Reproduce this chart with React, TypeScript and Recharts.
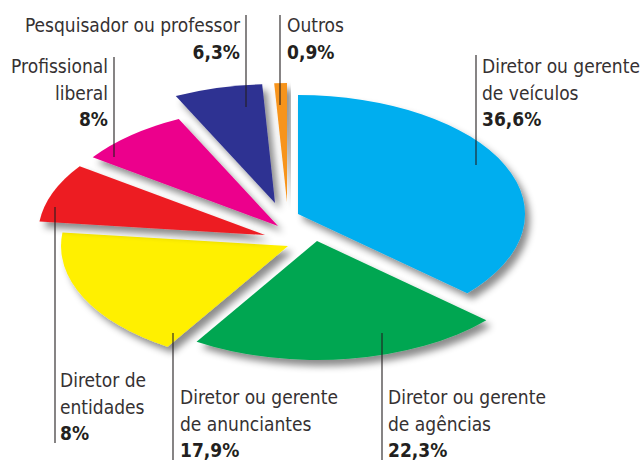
import React from "react";
import { PieChart, Pie, Tooltip } from "recharts";

const categories = [
  "Diretor ou gerente de veículos",
  "Diretor ou gerente de agências",
  "Diretor ou gerente de anunciantes",
  "Diretor de entidades",
  "Profissional liberal",
  "Pesquisador ou professor",
  "Outros",
];
const shares = [36.6, 22.3, 17.9, 8, 8, 6.3, 0.9];
const labelLines = [
  ["Diretor ou gerente", "de veículos"],
  ["Diretor ou gerente", "de agências"],
  ["Diretor ou gerente", "de anunciantes"],
  ["Diretor de", "entidades"],
  ["Profissional", "liberal"],
  ["Pesquisador ou professor"],
  ["Outros"],
];
const shareLabels = ["36,6%", "22,3%", "17,9%", "8%", "8%", "6,3%", "0,9%"];
const colors = ["#00AEEF", "#00A651", "#FFF000", "#ED1C24", "#EC008C", "#2E3192", "#F7941D"];

// styling: how far each slice is pulled out of the pie (dx, dy in px)
const explodeOffsets = [
  [11, -10],
  [30, 17],
  [1, 22],
  [-22, 11],
  [-9, 2],
  [-12, -21],
  [0, -22],
];

// label placement (annotation layout, not data)
const labelLayout = [
  { lineX: 476, y1: 55, y2: 165, textX: 482, anchor: "start", top: 73 },
  { lineX: 382, y1: 333, y2: 462, textX: 388, anchor: "start", top: 404 },
  { lineX: 173, y1: 333, y2: 462, textX: 180, anchor: "start", top: 404 },
  { lineX: 55, y1: 207, y2: 443, textX: 60, anchor: "start", top: 387 },
  { lineX: 114, y1: 57, y2: 157, textX: 108, anchor: "end", top: 73 },
  { lineX: 246, y1: 15, y2: 107, textX: 240, anchor: "end", top: 32 },
  { lineX: 280, y1: 15, y2: 105, textX: 287, anchor: "start", top: 32 },
];

const data = categories.map((name, i) => ({ name, value: shares[i], fill: colors[i], slot: i }));

const TILT = 0.524;
const FONT = "'DejaVu Sans Condensed', 'Liberation Sans Narrow', 'Roboto Condensed', 'Open Sans', sans-serif";
const INK = "#353132";

const RAD = Math.PI / 180;

const EllipseSector = (p: any) => {
  const { cx, cy, outerRadius, startAngle, endAngle, fill } = p;
  const slot = p.payload?.slot ?? p.slot ?? 0;
  const [dx, dy] = explodeOffsets[slot] || [0, 0];
  const rx = outerRadius;
  const ry = outerRadius * TILT;
  const x0 = cx + dx;
  const y0 = cy + dy;
  const sx = x0 + rx * Math.cos(startAngle * RAD);
  const sy = y0 - ry * Math.sin(startAngle * RAD);
  const ex = x0 + rx * Math.cos(endAngle * RAD);
  const ey = y0 - ry * Math.sin(endAngle * RAD);
  const large = Math.abs(endAngle - startAngle) > 180 ? 1 : 0;
  const id = `sh${slot}`;
  const d = `M${x0},${y0} L${sx},${sy} A${rx},${ry} 0 ${large} 1 ${ex},${ey} Z`;
  return (
    <g>
      <defs>
        <filter id={id} x="-30%" y="-30%" width="160%" height="160%">
          <feDropShadow dx="5" dy="6" stdDeviation="3.5" floodColor="#000" floodOpacity="0.45" />
        </filter>
      </defs>
      <path d={d} fill={fill} stroke="none" filter={`url(#${id})`} />
    </g>
  );
};

const renderLabel = (props: any) => {
  const i = props.index;
  const L = labelLayout[i];
  const lines = labelLines[i];
  return (
    <g key={`lbl-${i}`}>
      <line x1={L.lineX} x2={L.lineX} y1={L.y1} y2={L.y2} stroke="#231F20" strokeWidth={1.1} />
      <text textAnchor={L.anchor} fontFamily={FONT} fontSize={19} fill={INK}>
        {lines.map((ln, k) => (
          <tspan key={k} x={L.textX} y={L.top + k * 26.5}>
            {ln}
          </tspan>
        ))}
        <tspan x={L.textX} y={L.top + lines.length * 26.5} fontWeight="bold" fill="#231F20">
          {shareLabels[i]}
        </tspan>
      </text>
    </g>
  );
};

export default function App() {
  return (
    <div style={{ position: "absolute", left: 0, top: 0, width: 642, height: 460, background: "#fff" }}>
      <PieChart width={642} height={460} margin={{ top: 0, right: 0, bottom: 0, left: 0 }}>
        <Tooltip defaultIndex={0} content={() => null} cursor={false} />
        <Pie
          data={data}
          dataKey="value"
          nameKey="name"
          cx={287}
          cy={224}
          innerRadius={0}
          outerRadius={227}
          startAngle={90}
          endAngle={-270}
          stroke="none"
          isAnimationActive={false}
          shape={EllipseSector}
          activeShape={EllipseSector}
          inactiveShape={EllipseSector}
          label={renderLabel}
          labelLine={false}
        />
      </PieChart>
    </div>
  );
}
